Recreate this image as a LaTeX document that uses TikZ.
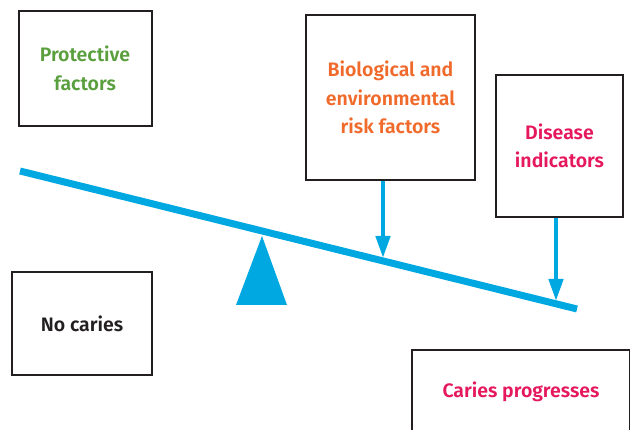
\documentclass[tikz,border=0pt]{standalone}
\usepackage{fontspec}
\setmainfont{Fira Sans}[BoldFont={Fira Sans SemiBold}]
\usetikzlibrary{arrows.meta}
\definecolor{beamblue}{HTML}{00A8E1}
\definecolor{protgreen}{HTML}{5A9F3E}
\definecolor{riskorange}{HTML}{F06A2B}
\definecolor{diseasepink}{HTML}{E5175D}
\definecolor{boxline}{HTML}{231F20}
\begin{document}
\begin{tikzpicture}[x=1pt, y=-1pt,
    every node/.style={font=\fontsize{19.5}{28.5}\selectfont\bfseries, align=center},
    factor/.style={draw=boxline, line width=2pt, inner sep=0pt},
    weight/.style={beamblue, line width=4.5pt, -{Triangle[width=14pt,length=22pt]}}]
  \clip (0,0) rectangle (630,430);
  \coordinate (L) at (20,171); \coordinate (R) at (577,309);
  \coordinate (P1) at (383,258); \coordinate (P2) at (556,301);
  % seesaw and pivot
  \draw[beamblue, line width=7pt] (L)--(R);
  \fill[beamblue] (262,236)--(287,305)--(236,305)--cycle;
  \node[factor, minimum width=133, minimum height=115, text=protgreen] (prot) at (85,68.5) {Protective\\factors};
  \node[factor, minimum width=169, minimum height=165, text=riskorange] (bio) at (390.5,97.5) {Biological and\\environmental\\risk factors};
  \node[factor, minimum width=127, minimum height=142, text=diseasepink] (dis) at (559.5,146) {Disease\\indicators};
  \node[factor, minimum width=140, minimum height=103, text=boxline] (none) at (82,323.5) {No caries};
  \node[factor, minimum width=218, minimum height=84, text=diseasepink] (prog) at (521,392) {Caries progresses};
  \draw[weight] (P1 |- bio.south)--(P1);
  \draw[weight] (P2 |- dis.south)--(P2);
\end{tikzpicture}
\end{document}
